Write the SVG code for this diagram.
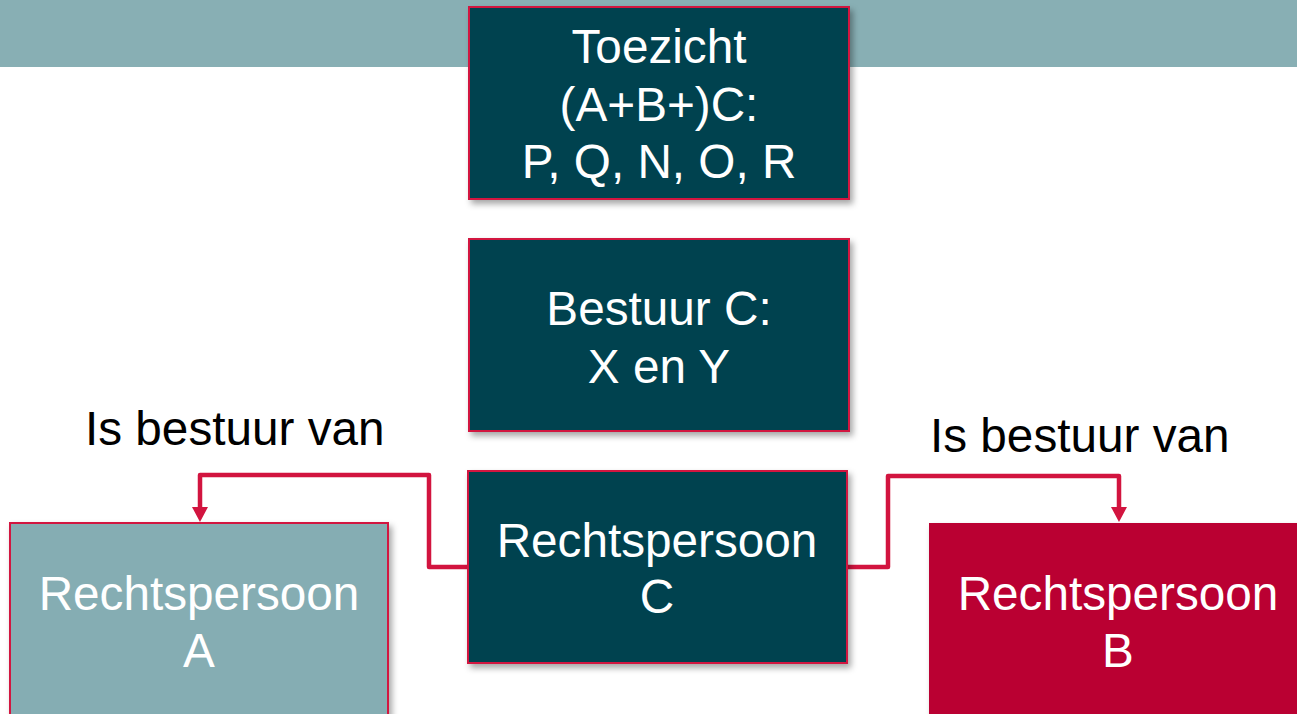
<svg xmlns="http://www.w3.org/2000/svg" width="1297" height="714" viewBox="0 0 1297 714">
<defs>
<filter id="sh" x="-10%" y="-10%" width="125%" height="130%">
<feDropShadow dx="3" dy="4" stdDeviation="3" flood-color="#000" flood-opacity="0.35"/>
</filter>
<style>
.box{stroke:#D2143F;stroke-width:2}
.dark{fill:#00424F}
.t{font-family:"Liberation Sans",Arial,sans-serif;font-size:47.7px;fill:#fff;text-anchor:middle}
.lbl{font-family:"Liberation Sans",Arial,sans-serif;font-size:47.7px;fill:#000}
.con{fill:none;stroke:#D2143F;stroke-width:4.5;stroke-linejoin:round}
.ah{fill:#D2143F}
</style>
</defs>
<rect width="1297" height="714" fill="#fff"/>
<rect x="0" y="0" width="1297" height="67" fill="#88AFB4"/>
<g id="connectors">
<path class="con" d="M468,567 L429,567 L429,475 L200,475 L200,509"/>
<path class="ah" d="M192,507 L208,507 L200,522 Z"/>
<path class="con" d="M847,567 L888,567 L888,476 L1119,476 L1119,509"/>
<path class="ah" d="M1111,507 L1127,507 L1119,522 Z"/>
</g>
<g id="toezicht">
<rect class="box dark" x="469" y="7" width="380" height="192" filter="url(#sh)"/>
<text class="t" x="659" y="63">Toezicht</text>
<text class="t" x="659" y="121">(A+B+)C:</text>
<text class="t" x="659" y="178">P, Q, N, O, R</text>
</g>
<g id="bestuur">
<rect class="box dark" x="469" y="239" width="380" height="192" filter="url(#sh)"/>
<text class="t" x="659" y="325">Bestuur C:</text>
<text class="t" x="659" y="383">X en Y</text>
</g>
<g id="rechtspersoon-c">
<rect class="box dark" x="468" y="471" width="379" height="192" filter="url(#sh)"/>
<text class="t" x="657" y="557">Rechtspersoon</text>
<text class="t" x="657" y="613">C</text>
</g>
<g id="rechtspersoon-a">
<rect class="box" x="10" y="523" width="378" height="200" fill="#85ADB3" filter="url(#sh)"/>
<text class="t" x="199" y="610">Rechtspersoon</text>
<text class="t" x="199" y="667">A</text>
</g>
<g id="rechtspersoon-b">
<rect x="929" y="523" width="380" height="200" fill="#BA0030" filter="url(#sh)"/>
<text class="t" x="1118" y="610">Rechtspersoon</text>
<text class="t" x="1118" y="667">B</text>
</g>
<g id="labels">
<text class="lbl" x="85" y="445">Is bestuur van</text>
<text class="lbl" x="930" y="452">Is bestuur van</text>
</g>
</svg>
